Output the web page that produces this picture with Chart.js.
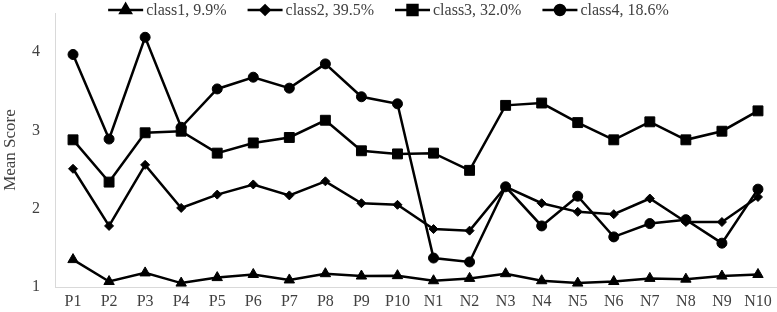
<!DOCTYPE html>
<html>
<head>
<meta charset="utf-8">
<script src="https://cdn.jsdelivr.net/npm/chart.js@4/dist/chart.umd.min.js"></script>
<style>
  html, body { margin: 0; padding: 0; background: #fff; }
  #wrap { width: 777px; height: 312px; }
</style>
</head>
<body>
<div id="wrap"><canvas id="c"></canvas></div>
<script>
const labels = ['P1','P2','P3','P4','P5','P6','P7','P8','P9','P10','N1','N2','N3','N4','N5','N6','N7','N8','N9','N10'];
const class1 = [1.35,1.07,1.18,1.05,1.12,1.16,1.09,1.17,1.14,1.145,1.08,1.11,1.17,1.08,1.05,1.07,1.11,1.10,1.14,1.16];
const class2 = [2.51,1.78,2.56,2.01,2.18,2.31,2.17,2.35,2.07,2.05,1.74,1.72,2.28,2.07,1.96,1.93,2.13,1.83,1.83,2.15];
const class3 = [2.88,2.34,2.97,2.99,2.71,2.84,2.91,3.13,2.74,2.70,2.71,2.49,3.32,3.35,3.10,2.88,3.11,2.88,2.99,3.25];
const class4 = [3.97,2.89,4.19,3.04,3.53,3.68,3.54,3.85,3.43,3.34,1.37,1.32,2.28,1.78,2.16,1.64,1.81,1.86,1.56,2.25];
const seriesNames = ['class1, 9.9%','class2, 39.5%','class3, 32.0%','class4, 18.6%'];
const markers = ['triangle','rectRot','rect','circle'];
const markerSize = [6, 4.5, 7, 5];

const FONT = 'Liberation Serif, Times New Roman, serif';

function mk(i, data){
  return {
    label: seriesNames[i],
    data,
    borderColor: '#000',
    backgroundColor: '#000',
    borderWidth: 2.5,
    pointStyle: markers[i],
    pointRadius: markerSize[i],
    pointHoverRadius: markerSize[i],
    pointBorderWidth: 1,
    pointBackgroundColor: '#000',
    pointBorderColor: '#000',
    tension: 0
  };
}

// legend drawn over the top of the plot, line with marker in the middle
const legendPlugin = {
  id: 'lineLegend',
  afterDraw(chart){
    const ctx = chart.ctx;
    ctx.save();
    ctx.font = '16px ' + FONT;
    const lineW = 35, gapText = 3, gapItem = 21;
    const widths = seriesNames.map(t => ctx.measureText(t).width);
    const total = widths.reduce((a,b)=>a+b,0) + seriesNames.length*(lineW+gapText) + (seriesNames.length-1)*gapItem;
    let x = (chart.width - total)/2;
    const y = 10;
    seriesNames.forEach((name, i) => {
      ctx.strokeStyle = '#000';
      ctx.lineWidth = 2.5;
      ctx.beginPath();
      ctx.moveTo(x, y);
      ctx.lineTo(x+lineW, y);
      ctx.stroke();
      ctx.fillStyle = '#000';
      Chart.helpers.drawPoint(ctx, {pointStyle: markers[i], radius: markerSize[i], rotation: 0, borderWidth: 1}, x+lineW/2, y);
      ctx.fill();
      ctx.fillStyle = '#404040';
      ctx.textBaseline = 'middle';
      ctx.textAlign = 'left';
      ctx.fillText(name, x+lineW+gapText, y+1);
      x += lineW + gapText + widths[i] + gapItem;
    });
    ctx.restore();
  }
};

new Chart(document.getElementById('c'), {
  type: 'line',
  data: {
    labels,
    datasets: [mk(0, class1), mk(1, class2), mk(2, class3), mk(3, class4)]
  },
  options: {
    responsive: true,
    maintainAspectRatio: false,
    animation: false,
    layout: { autoPadding: false, padding: { top: 13, right: 1, bottom: 0, left: 0 } },
    plugins: {
      legend: { display: false },
      tooltip: { enabled: false }
    },
    scales: {
      x: {
        offset: true,
        grid: { display: false, drawTicks: false },
        border: { color: '#d9d9d9', width: 1 },
        ticks: { color: '#404040', font: { family: FONT, size: 16 }, padding: 5, maxRotation: 0, autoSkip: false },
        afterFit(scale){ scale.height = 25; scale.paddingLeft = 0; scale.paddingRight = 0; }
      },
      y: {
        min: 1,
        max: 4.5,
        grid: { display: false, drawTicks: false },
        border: { color: '#d9d9d9', width: 1 },
        ticks: {
          stepSize: 1,
          color: '#404040',
          font: { family: FONT, size: 16 },
          padding: 15,
          callback: v => Number.isInteger(v) ? v : ''
        },
        title: { display: true, text: 'Mean Score', color: '#404040', font: { family: FONT, size: 17 }, padding: 0 },
        afterFit(scale){ scale.width = 55; scale.paddingTop = 0; scale.paddingBottom = 0; }
      }
    }
  },
  plugins: [legendPlugin]
});
</script>
</body>
</html>
